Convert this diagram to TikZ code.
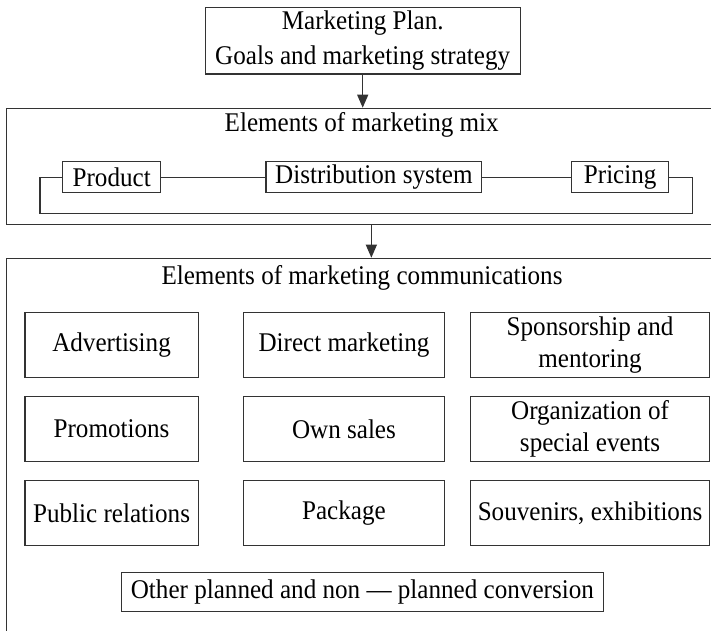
\documentclass[tikz,border=0pt]{standalone}
\usepackage{fontspec}
\setmainfont{Liberation Serif}
\newfontfamily\serifx[FakeStretch=0.93]{Liberation Serif}
\usetikzlibrary{arrows.meta,calc}
\definecolor{linec}{HTML}{333333}
\newcommand\diafont{\serifx\fontsize{27}{32.5}\selectfont}
\begin{document}
\begin{tikzpicture}[x=1pt,y=-1pt,
  line/.style={draw=linec, line width=1.2pt},
  box/.style={line, inner sep=0pt, align=center, font=\diafont},
  frame/.style={line, inner sep=0pt},
  label/.style={inner sep=0pt, font=\diafont},
  arr/.style={line, -{Triangle[length=13pt,width=11pt]}},
  cbox/.style={box, minimum height=65pt}]
\useasboundingbox (0,0) rectangle (711,630);
\clip (0,0) rectangle (711,630);
% top box
\node[box, minimum width=315.2pt, minimum height=66.7pt] (plan) at (362.7,40.7)
  {Marketing Plan.\\[2pt]Goals and marketing strategy};
% marketing mix frame
\node[frame, minimum width=709.3pt, minimum height=116pt] (mix) at (361.35,166.3) {};
\node[label] (mixt) at (361.7,125) {Elements of marketing mix};
\node[box, minimum width=98pt, minimum height=31pt] (prod) at (111.7,177.2) {Product};
\node[box, minimum width=215.7pt, minimum height=31pt] (dist) at (373.85,177.2) {Distribution system};
\node[box, minimum width=97pt, minimum height=31pt] (price) at (620.2,177.2) {Pricing};
\draw[line] (prod.east) -- (dist.west);
\draw[line] (dist.east) -- (price.west);
\coordinate (loopL) at (40,213.3);
\coordinate (loopR) at (692.7,177.2);
\draw[line] (prod.west) -| (loopL) -| (loopR) -- (price.east);
% communications frame
\node[frame, minimum width=709.3pt, minimum height=381.7pt] (comm) at (361.35,449.15) {};
\node[label] (commt) at (362,278) {Elements of marketing communications};
% arrows
\draw[arr] (plan.south) -- (plan.south |- mix.north);
\draw[arr] ([xshift=10pt]mix.south) -- ([xshift=10pt]mix.south |- comm.north);
% grid of tools
\node[cbox, minimum width=173.3pt] (adv) at (111.55,345.2) {Advertising};
\node[cbox, minimum width=200.9pt] (dm) at (343.95,345.2) {Direct marketing};
\node[cbox, minimum width=239.5pt] (spon) at (590.05,345.2) {Sponsorship and\\mentoring};
\node[cbox, minimum width=173.3pt] (promo) at (111.55,428.85) {Promotions};
\node[cbox, minimum width=200.9pt] (own) at (343.95,428.85) {Own sales};
\node[cbox, minimum width=239.5pt] (org) at (590.05,428.85) {Organization of\\special events};
\node[cbox, minimum width=173.3pt] (pr) at (111.55,512.8) {Public relations};
\node[cbox, minimum width=200.9pt] (pack) at (343.95,512.8) {Package};
\node[cbox, minimum width=239.5pt] (souv) at (590.05,512.8) {Souvenirs, exhibitions};
\node[box, minimum width=481.7pt, minimum height=39pt] (other) at (362.35,592.2)
  {Other planned and non — planned conversion};
\end{tikzpicture}
\end{document}
